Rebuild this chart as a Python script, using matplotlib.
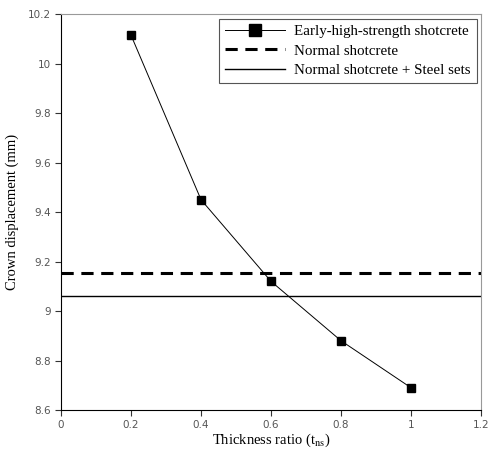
import matplotlib
matplotlib.use('Agg')
import matplotlib.pyplot as plt

plt.rcParams['mathtext.fontset'] = 'stix'

# thickness ratio vs crown displacement
ratio = [0.2, 0.4, 0.6, 0.8, 1.0]
disp_early = [10.115, 9.45, 9.12, 8.88, 8.69]
disp_normal = 9.152
disp_steel = 9.06

xticks = [0, 0.2, 0.4, 0.6, 0.8, 1, 1.2]
yticks = [8.6, 8.8, 9, 9.2, 9.4, 9.6, 9.8, 10, 10.2]

fig = plt.figure(figsize=(4.89, 4.53), dpi=100)
ax = fig.add_axes([0.1247, 0.0949, 0.859, 0.874])

ax.plot(ratio, disp_early, color='black', lw=0.7, marker='s', ms=6,
        label='Early-high-strength shotcrete')
ax.axhline(disp_normal, color='black', lw=2.2, ls=(0, (4, 2.5)), label='Normal shotcrete')
ax.axhline(disp_steel, color='black', lw=1.0, label='Normal shotcrete + Steel sets')

ax.set_xlim(0, 1.2)
ax.set_ylim(8.6, 10.2)
ax.set_xticks(xticks, labels=[f'{t:g}' for t in xticks])
ax.set_yticks(yticks, labels=[f'{t:g}' for t in yticks])
ax.tick_params(direction='out', length=4, labelsize=7.5, labelcolor='#555555', color='#333333')
for side in ['top', 'right']:
    ax.spines[side].set_color('#999999')

serif = ['Liberation Serif', 'DejaVu Serif']
ax.set_xlabel(r'Thickness ratio (t$_{\mathrm{ns}}$)', family=serif, fontsize=10.5, labelpad=1)
ax.set_ylabel('Crown displacement (mm)', family=serif, fontsize=10.5, labelpad=6)

leg = ax.legend(loc='upper right', prop={'family': serif, 'size': 10.8}, fancybox=False,
                edgecolor='#555555', framealpha=1, borderaxespad=0.3, borderpad=0.4,
                handlelength=4.0, handletextpad=0.6, labelspacing=0.4, markerscale=1.5)
leg.get_frame().set_linewidth(0.8)

fig.savefig('out.png', dpi=100)
